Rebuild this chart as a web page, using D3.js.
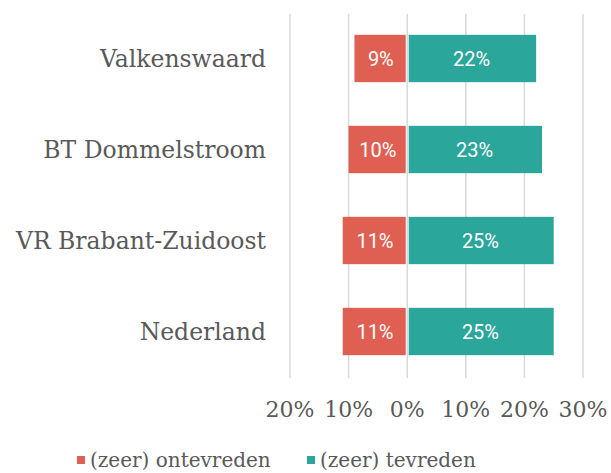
<!DOCTYPE html>
<html lang="nl">
<head>
  <meta charset="UTF-8">
  <title>Tevredenheid</title>
  <script src="https://d3js.org/d3.v7.min.js"></script>
  <style>
    body {
      margin: 0;
      background: #fff;
    }
    svg {
      display: block;
    }
    .cat, .tick-label, .legend {
      font-family: "DejaVu Serif", serif;
      fill: #595959;
    }
    .bar-label {
      font-family: Roboto, sans-serif;
      fill: #fff;
      font-size: 20px;
    }
  </style>
</head>
<body>
  <svg width="611" height="473"></svg>

  <script>
    const categories = ["Valkenswaard", "BT Dommelstroom", "VR Brabant-Zuidoost", "Nederland"];
    const ontevreden = [9, 10, 11, 11];
    const tevreden = [22, 23, 25, 25];
    const ticks = [-20, -10, 0, 10, 20, 30];
    const seriesNames = ["(zeer) ontevreden", "(zeer) tevreden"];

    const colors = ["#df5f52", "#2aa69a"];

    const svg = d3.select("svg");

    const x = d3.scaleLinear().domain([-20, 30]).range([290, 583]);
    const y = d3.scaleBand().domain(categories).range([13, 377]).paddingInner(0.48).paddingOuter(0.24);

    // gridlines
    svg.append("g")
      .selectAll("line")
      .data(ticks)
      .enter().append("line")
      .attr("x1", d => x(d)).attr("x2", d => x(d))
      .attr("y1", 14).attr("y2", 378)
      .attr("stroke", "#d9d9d9")
      .attr("stroke-width", 1.5);

    // tick labels
    svg.append("g")
      .selectAll("text")
      .data(ticks)
      .enter().append("text")
      .attr("class", "tick-label")
      .attr("x", d => x(d))
      .attr("y", 409)
      .attr("dy", "0.35em")
      .attr("text-anchor", "middle")
      .style("font-size", "22px")
      .text(d => Math.abs(d) + "%");

    // category labels
    svg.append("g")
      .selectAll("text")
      .data(categories)
      .enter().append("text")
      .attr("class", "cat")
      .attr("x", 266)
      .attr("y", d => y(d) + y.bandwidth() / 2)
      .attr("dy", "0.35em")
      .attr("text-anchor", "end")
      .style("font-size", "23.5px")
      .text(d => d);

    const rows = categories.map((c, i) => ({ cat: c, neg: ontevreden[i], pos: tevreden[i] }));

    // negative bars
    svg.append("g")
      .selectAll("rect")
      .data(rows)
      .enter().append("rect")
      .attr("x", d => x(-d.neg))
      .attr("y", d => y(d.cat))
      .attr("width", d => x(0) - x(-d.neg) - 1.5)
      .attr("height", y.bandwidth())
      .attr("fill", colors[0]);

    // positive bars
    svg.append("g")
      .selectAll("rect")
      .data(rows)
      .enter().append("rect")
      .attr("x", x(0) + 1.5)
      .attr("y", d => y(d.cat))
      .attr("width", d => x(d.pos) - x(0) - 1.5)
      .attr("height", y.bandwidth())
      .attr("fill", colors[1]);

    // bar labels
    const lbl = svg.append("g");
    rows.forEach(d => {
      const cy = y(d.cat) + y.bandwidth() / 2;
      lbl.append("text")
        .attr("class", "bar-label")
        .attr("x", (x(-d.neg) + x(0)) / 2)
        .attr("y", cy)
        .attr("dy", "0.35em")
        .attr("text-anchor", "middle")
        .text(d.neg + "%");
      lbl.append("text")
        .attr("class", "bar-label")
        .attr("x", (x(0) + x(d.pos)) / 2)
        .attr("y", cy)
        .attr("dy", "0.35em")
        .attr("text-anchor", "middle")
        .text(d.pos + "%");
    });

    // legend
    const legendX = [77, 307];
    const legend = svg.append("g");
    seriesNames.forEach((name, i) => {
      legend.append("rect")
        .attr("x", legendX[i])
        .attr("y", 456)
        .attr("width", 8)
        .attr("height", 8)
        .attr("fill", colors[i]);
      legend.append("text")
        .attr("class", "legend")
        .attr("x", legendX[i] + 13)
        .attr("y", 460)
        .attr("dy", "0.35em")
        .style("font-size", "20px")
        .text(name);
    });
  </script>
</body>
</html>
